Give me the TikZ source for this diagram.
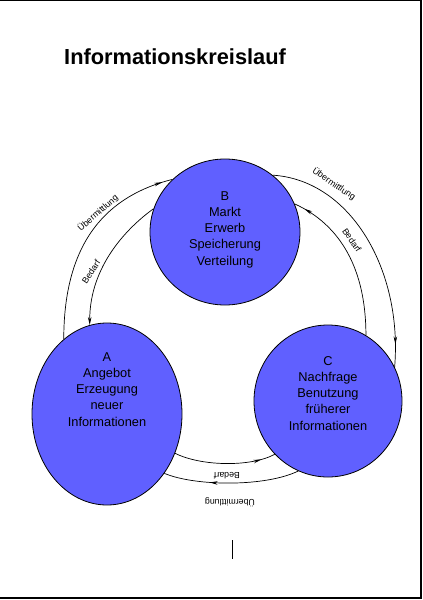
\documentclass[tikz,border=0pt]{standalone}
\usepackage{fontspec}
\setmainfont{Liberation Sans}
\usetikzlibrary{shapes.geometric,arrows.meta,decorations.markings}
\definecolor{circblue}{RGB}{96,96,255}
\begin{document}
\begin{tikzpicture}[x=1pt,y=1pt,
  bubble/.style={ellipse,draw=black,line width=0.8pt,fill=circblue,inner sep=0pt},
  bubbletext/.style={align=center,font=\fontsize{12.8}{16.2}\selectfont,inner sep=0pt,anchor=base},
  flow/.style={draw=black,line width=0.7pt},
  tipend/.style={-{Stealth[length=8pt,width=3.5pt]}},
  arrowat/.style={postaction={decorate,decoration={markings,mark=at position #1 with {\arrow{Stealth[length=8pt,width=3.5pt]}}}}},
  arclabel/.style={font=\fontsize{8.8}{10}\selectfont,inner sep=0pt}
]
\useasboundingbox (0,0) rectangle (423,-600);
\draw[line width=1pt] (0,-0.5) -- (422,-0.5);
\draw[line width=2pt] (421,0) -- (421,-599);
\draw[line width=2pt] (0,-598) -- (422,-598);

\node[anchor=base west,inner sep=0pt,font=\fontsize{21.8}{26}\selectfont\bfseries] (title) at (64,-64) {Informationskreislauf};

\node[bubble,minimum width=150pt,minimum height=146pt] (B) at (225,-232) {};
\node[bubble,minimum width=150pt,minimum height=182pt] (A) at (107,-414) {};
\node[bubble,minimum width=148pt,minimum height=152pt] (C) at (328,-401) {};

\node[bubbletext] (Btext) at (225,-265) {B\\Markt\\Erwerb\\Speicherung\\Verteilung};
\node[bubbletext] (Atext) at (107,-426) {A\\Angebot\\Erzeugung\\neuer\\Informationen};
\node[bubbletext] (Ctext) at (328,-430) {C\\Nachfrage\\Benutzung\\früherer\\Informationen};

% outer arcs (Übermittlung)
\draw[flow,arrowat=0.95] (A.120) .. controls +(0,99) and +(-64,-16) .. (B.135);
\draw[flow,arrowat=0.91] (B.50) .. controls +(78,-5) and +(8,97) .. (C.27);
\draw[flow,arrowat=0.66] (C.247) .. controls +(-33,-16) and +(31,-13) .. (A.-46);
% inner arcs (Bedarf)
\draw[flow,tipend] (B.162) .. controls +(-25,-18) and +(0,60) .. (A.101);
\draw[flow,arrowat=0.93] (C.60) .. controls +(0,66) and +(46,-21) .. (B.22);
\draw[flow,arrowat=0.86] (A.-30) .. controls +(26,-13) and +(-24,-13) .. (C.225);

\node[arclabel,rotate=41] (l1) at (98,-213) {Übermittlung};
\node[arclabel,rotate=57] (l2) at (91,-272) {Bedarf};
\node[arclabel,rotate=-34] (l3) at (334,-184) {Übermittlung};
\node[arclabel,rotate=-55] (l4) at (352,-240) {Bedarf};
\node[arclabel,rotate=180] (l5) at (227,-476) {Bedarf};
\node[arclabel,rotate=180] (l6) at (230,-502) {Übermittlung};

\draw[line width=1pt] (232,-540) -- (232,-559);
\end{tikzpicture}
\end{document}
